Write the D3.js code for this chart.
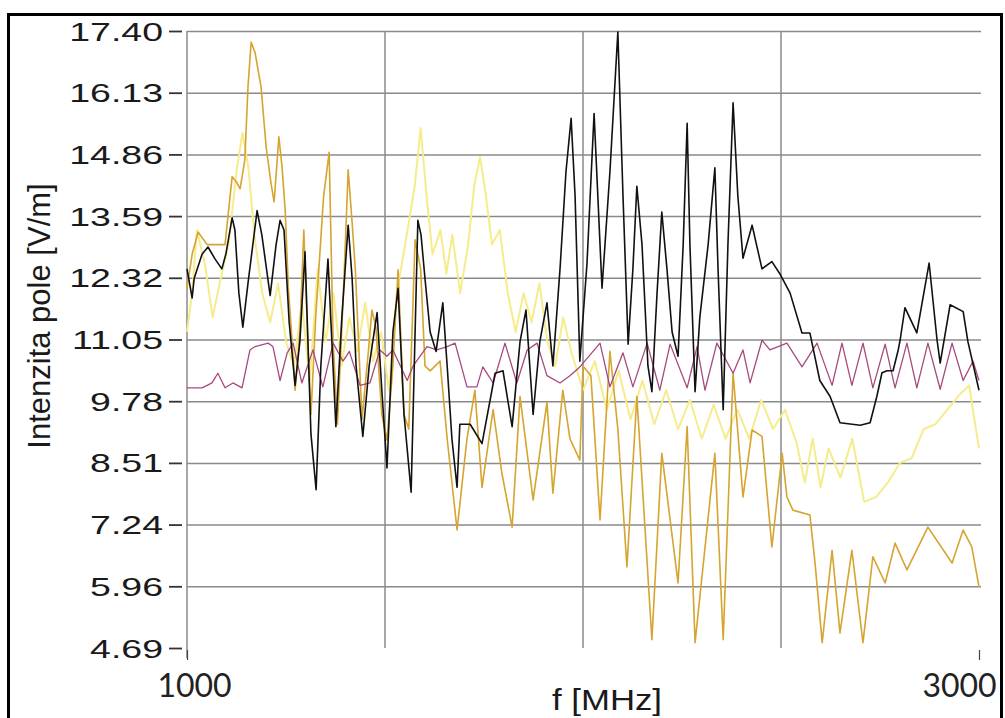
<!DOCTYPE html>
<html>
<head>
<meta charset="utf-8">
<script src="https://cdn.jsdelivr.net/npm/d3@7/dist/d3.min.js"></script>
<style>
  body { margin: 0; background: #fff; }
  .content { width: 1005px; height: 718px; }
</style>
</head>
<body>
<div class="content"></div>
<script>
var size = {width: 1005, height: 718};
var padding = {left: 187, right: 26, top: 31, bottom: 70};

// y axis: 11 evenly spaced ticks between the min and max
var yMin = 4.69, yMax = 17.40;
var yTickLabels = ["4.69", "5.96", "7.24", "8.51", "9.78", "11.05", "12.32", "13.59", "14.86", "16.13", "17.40"];
var xTickValues = [1000, 3000];
var xGridValues = [1000, 1500, 2000, 2500];

// series as [f MHz, E V/m]
var blackSeries = [[1000,12.5],[1013,11.9],[1018,12.3],[1038,12.8],[1053,12.95],[1071,12.7],[1088,12.5],[1098,12.8],[1114,13.55],[1121,13.3],[1131,12.0],[1141,11.3],[1154,12.2],[1177,13.7],[1189,13.2],[1210,11.95],[1225,13.0],[1235,13.5],[1245,13.3],[1258,11.4],[1273,10.1],[1285,11.0],[1298,12.85],[1313,9.1],[1326,7.95],[1338,10.5],[1356,12.7],[1376,9.25],[1391,11.5],[1407,13.4],[1417,12.3],[1427,10.5],[1444,9.05],[1460,10.5],[1480,11.6],[1492,10.0],[1505,8.4],[1520,11.2],[1533,12.1],[1548,9.5],[1566,7.9],[1583,13.5],[1591,13.2],[1601,12.3],[1614,11.2],[1629,10.8],[1646,11.8],[1657,10.5],[1669,9.0],[1682,8.0],[1689,9.3],[1715,9.3],[1745,8.9],[1778,10.35],[1798,10.4],[1821,9.25],[1841,11.0],[1856,11.65],[1874,9.5],[1891,11.0],[1909,11.8],[1924,10.5],[1942,12.5],[1957,14.5],[1970,15.6],[1980,14.0],[1992,10.6],[2010,12.6],[2028,15.7],[2048,12.1],[2068,14.5],[2088,17.38],[2101,14.0],[2114,10.95],[2126,12.5],[2136,14.2],[2149,13.0],[2164,10.5],[2174,9.97],[2187,12.0],[2199,13.67],[2212,12.5],[2225,11.2],[2240,10.7],[2253,13.0],[2263,15.5],[2270,13.0],[2283,9.97],[2295,11.5],[2316,13.0],[2333,14.58],[2341,12.5],[2354,9.6],[2366,13.0],[2379,15.92],[2391,14.0],[2404,12.72],[2427,13.4],[2452,12.5],[2477,12.65],[2497,12.4],[2523,12.0],[2553,11.18],[2573,11.18],[2598,10.2],[2624,9.87],[2649,9.33],[2700,9.28],[2725,9.33],[2742,9.87],[2755,10.36],[2768,10.4],[2783,10.4],[2796,10.83],[2801,11.04],[2813,11.7],[2843,11.18],[2874,12.62],[2894,11.04],[2902,10.56],[2927,11.76],[2960,11.62],[2972,11.0],[3000,10.0]];

var purpleSeries = [[1000,10.05],[1038,10.05],[1051,10.1],[1063,10.15],[1078,10.35],[1096,10.05],[1116,10.15],[1139,10.05],[1159,10.83],[1172,10.9],[1205,10.97],[1217,10.9],[1235,10.2],[1253,10.77],[1268,10.97],[1290,10.15],[1318,10.83],[1343,10.07],[1369,10.97],[1394,10.6],[1410,10.8],[1437,10.1],[1462,10.15],[1487,10.83],[1505,10.7],[1520,10.83],[1556,10.2],[1571,10.5],[1606,10.9],[1631,10.83],[1657,10.9],[1677,10.97],[1707,10.07],[1732,10.07],[1747,10.48],[1773,10.15],[1803,10.97],[1833,10.15],[1859,10.83],[1884,10.97],[1909,10.3],[1942,10.15],[1967,10.3],[1992,10.48],[2043,10.97],[2068,10.07],[2101,10.77],[2126,10.07],[2162,10.97],[2194,10.0],[2220,10.95],[2263,10.05],[2288,10.9],[2308,10.0],[2338,10.97],[2379,10.35],[2404,10.83],[2422,10.15],[2452,11.03],[2472,10.83],[2515,10.97],[2553,10.48],[2591,10.97],[2629,10.1],[2654,10.97],[2679,10.1],[2707,10.97],[2732,10.05],[2763,10.95],[2788,10.05],[2818,10.97],[2843,10.05],[2871,10.97],[2902,10.02],[2932,10.97],[2960,10.2],[2985,10.6],[3000,10.2]];

var goldSeries = [[1000,12.1],[1013,12.8],[1028,13.26],[1051,13.0],[1071,13.0],[1096,13.0],[1114,14.4],[1124,14.3],[1134,14.15],[1146,14.74],[1154,16.25],[1162,17.17],[1172,16.95],[1187,16.25],[1200,15.0],[1212,14.27],[1220,13.88],[1232,15.22],[1240,14.6],[1248,13.7],[1256,12.1],[1263,11.3],[1273,10.0],[1285,11.2],[1295,13.3],[1305,11.0],[1313,9.5],[1325,11.5],[1345,14.0],[1359,14.9],[1369,11.0],[1380,9.3],[1395,12.0],[1407,14.54],[1417,13.45],[1425,12.5],[1442,9.4],[1458,10.8],[1467,11.65],[1477,11.3],[1492,9.5],[1505,8.97],[1520,10.5],[1533,12.48],[1548,9.5],[1560,9.2],[1576,13.1],[1590,12.5],[1601,10.5],[1614,10.4],[1639,10.6],[1657,9.0],[1682,7.12],[1707,9.0],[1727,10.0],[1745,8.0],[1773,9.6],[1795,8.3],[1821,7.18],[1841,9.87],[1874,7.74],[1909,9.75],[1924,7.88],[1949,10.0],[1967,9.0],[1992,8.56],[2000,10.5],[2020,10.3],[2043,7.33],[2068,10.8],[2088,9.2],[2111,6.36],[2136,9.87],[2174,4.86],[2199,8.7],[2240,6.03],[2263,9.25],[2283,4.8],[2333,8.7],[2354,4.86],[2379,10.35],[2404,7.8],[2427,9.18],[2452,9.05],[2477,6.77],[2503,8.7],[2515,7.8],[2530,7.53],[2573,7.43],[2586,6.44],[2604,4.8],[2629,6.7],[2649,5.0],[2679,6.7],[2707,4.8],[2732,6.57],[2763,6.03],[2788,6.85],[2818,6.3],[2871,7.18],[2932,6.44],[2960,7.12],[2982,6.77],[3000,5.95]];

var yellowSeries = [[1000,11.2],[1013,12.0],[1025,13.3],[1045,12.6],[1065,11.5],[1085,12.3],[1105,13.0],[1125,14.5],[1140,15.3],[1155,14.6],[1170,13.2],[1190,12.0],[1210,11.4],[1230,12.2],[1250,11.0],[1270,10.5],[1290,11.8],[1310,10.2],[1330,12.5],[1350,11.0],[1370,12.0],[1390,10.5],[1410,11.5],[1430,10.8],[1450,11.8],[1470,10.6],[1490,11.2],[1510,10.0],[1530,12.0],[1555,13.2],[1575,14.2],[1590,15.4],[1605,14.0],[1620,12.8],[1640,13.3],[1655,12.4],[1670,13.2],[1690,12.0],[1710,13.0],[1725,14.2],[1740,14.8],[1755,14.0],[1770,13.0],[1790,13.3],[1810,12.0],[1830,11.2],[1850,12.0],[1870,11.4],[1890,12.2],[1910,11.0],[1930,10.5],[1950,11.5],[1970,10.8],[2000,10.0],[2030,10.6],[2060,9.6],[2090,10.4],[2120,9.4],[2150,10.2],[2180,9.3],[2210,10.0],[2240,9.2],[2270,9.8],[2300,9.0],[2330,9.7],[2360,9.0],[2390,9.6],[2420,9.0],[2450,9.8],[2480,9.2],[2510,9.6],[2540,8.9],[2560,8.1],[2580,9.0],[2600,8.0],[2620,8.8],[2650,8.2],[2680,9.0],[2710,7.7],[2740,7.8],[2770,8.1],[2800,8.5],[2830,8.6],[2860,9.2],[2890,9.3],[2920,9.6],[2950,9.9],[2975,10.1],[3000,8.8]];

var series = [
  {name: "yellow", data: yellowSeries, color: "#f6ec8c", width: 2},
  {name: "gold", data: goldSeries, color: "#d6a430", width: 1.6},
  {name: "purple", data: purpleSeries, color: "#a8497e", width: 1.3},
  {name: "black", data: blackSeries, color: "#111111", width: 1.6}
];

var chart = d3.select('.content')
  .append('svg')
  .attr('width', size.width)
  .attr('height', size.height)
  .style('font-family', '"Liberation Sans", Arial, sans-serif');

chart.append('rect')
  .attr('width', size.width).attr('height', size.height)
  .attr('fill', '#fff');

// outer frame
chart.append('rect')
  .attr('x', 8.5).attr('y', 14.5)
  .attr('width', 993).attr('height', 720)
  .attr('fill', 'none')
  .attr('stroke', '#000')
  .attr('stroke-width', 3);

var xScale = d3.scaleLinear()
  .domain([1000, 3000])
  .range([padding.left, size.width - padding.right]);
var yScale = d3.scaleLinear()
  .domain([yMin, yMax])
  .range([size.height - padding.bottom, padding.top]);

var yTickValues = d3.range(yTickLabels.length).map(function(i) {
  return yMin + i * (yMax - yMin) / (yTickLabels.length - 1);
});

// horizontal grid (no line at the lowest tick)
var plotW = xScale(3000) - xScale(1000);
chart.append('g')
  .attr('transform', 'translate(' + padding.left + ',0)')
  .call(d3.axisRight(yScale).tickValues(yTickValues.slice(1)).tickSize(plotW + 2).tickFormat(''))
  .call(function(g) {
    g.select('.domain').remove();
    g.selectAll('line').attr('stroke', '#8a8a8a').attr('stroke-width', 1.5);
  });

// vertical grid
chart.append('g')
  .selectAll('line')
  .data(xGridValues)
  .enter().append('line')
  .attr('x1', function(d) { return xScale(d); })
  .attr('x2', function(d) { return xScale(d); })
  .attr('y1', yScale(yMax))
  .attr('y2', function(d) { return d === 1000 ? yScale(yMin) + 10 : yScale(yMin); })
  .attr('stroke', '#8a8a8a')
  .attr('stroke-width', 1.5);

// y axis ticks + labels (labels are stretched wide in the original)
var yAxisObj = chart.append('g')
  .attr('transform', 'translate(' + (padding.left - 5) + ',0)')
  .call(d3.axisLeft(yScale)
    .tickValues(yTickValues)
    .tickFormat(function(d, i) { return yTickLabels[i]; })
    .tickSize(13)
    .tickPadding(6));
yAxisObj.select('.domain').remove();
yAxisObj.selectAll('line').attr('stroke', '#333').attr('stroke-width', 1.8);
yAxisObj.selectAll('text')
  .attr('x', -19 / 1.5)
  .attr('dy', '0.36em')
  .attr('transform', 'scale(1.5,1)')
  .style('font-size', '25px')
  .style('font-family', '"Liberation Sans", Arial, sans-serif')
  .attr('fill', '#1a1a1a');

// x axis: only end ticks
var xAxisObj = chart.append('g')
  .attr('transform', 'translate(0,' + (yScale(yMin) + 2) + ')')
  .call(d3.axisBottom(xScale).tickValues(xTickValues).tickSize(10).tickPadding(14).tickFormat(d3.format('d')));
xAxisObj.select('.domain').remove();
xAxisObj.selectAll('line').attr('stroke', '#444').attr('stroke-width', 1.2);
xAxisObj.selectAll('text')
  .attr('dx', function(d) { return d === 1000 ? 7 : -20; })
  .attr('dy', '0.71em')
  .style('font-size', '32px')
  .style('font-family', 'Lato, "Open Sans", sans-serif')
  .attr('fill', '#222');

// lines
var line = d3.line()
  .x(function(d) { return xScale(d[0]); })
  .y(function(d) { return yScale(d[1]); });

var plot = chart.append('g');
plot.selectAll('path.series')
  .data(series)
  .enter().append('path')
  .attr('class', 'series')
  .attr('d', function(s) { return line(s.data); })
  .attr('fill', 'none')
  .attr('stroke', function(s) { return s.color; })
  .attr('stroke-width', function(s) { return s.width; })
  .attr('stroke-linejoin', 'round');

// axis titles
chart.append('text')
  .attr('transform', 'translate(50,316) rotate(-90)')
  .attr('text-anchor', 'middle')
  .style('font-size', '31px')
  .attr('fill', '#1a1a1a')
  .text('Intenzita pole [V/m]');

chart.append('text')
  .attr('x', 607).attr('y', 710)
  .attr('text-anchor', 'middle')
  .attr('textLength', 110)
  .attr('lengthAdjust', 'spacingAndGlyphs')
  .style('font-size', '30px')
  .attr('fill', '#1a1a1a')
  .text('f [MHz]');
</script>
</body>
</html>
